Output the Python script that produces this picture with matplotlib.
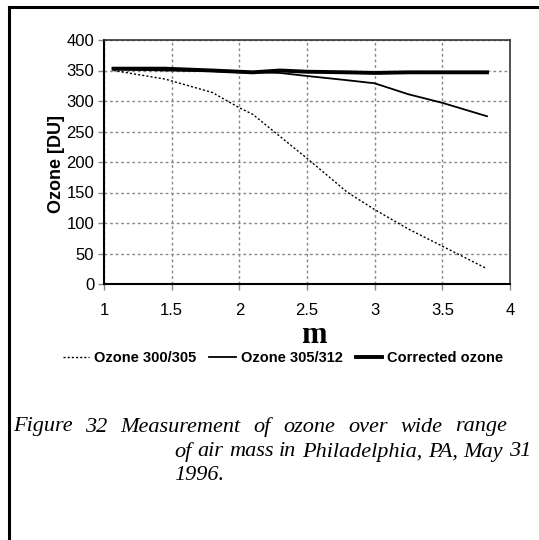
import matplotlib
matplotlib.use("Agg")
import matplotlib.pyplot as plt
from matplotlib.lines import Line2D

airmass = [1.07, 1.45, 1.8, 2.0, 2.1, 2.3, 2.5, 2.8, 3.0, 3.25, 3.5, 3.83]
ozone_300_305 = [350, 336, 314, 289, 278, 242, 206, 150, 122, 90, 62, 25]
ozone_305_312 = [352, 350, 349, 347, 347, 346, 341, 334, 329, 311, 297, 275]
corrected_ozone = [353, 353, 350, 348, 347, 350, 348, 347, 346, 347, 347, 347]

xticks = [1, 1.5, 2, 2.5, 3, 3.5, 4]
yticks = [0, 50, 100, 150, 200, 250, 300, 350, 400]
series_labels = ["Ozone 300/305", "Ozone 305/312", "Corrected ozone"]
caption_lines = ["Figure 32 Measurement of ozone over wide range",
                 "of air mass in Philadelphia, PA, May 31",
                 "1996."]

W, H = 539, 540
fig = plt.figure(figsize=(W / 100, H / 100), dpi=100)
ax = fig.add_axes([104 / W, 1 - 284 / H, (510 - 104) / W, (284 - 40) / H])

dot = (0, (1.5, 1.5))
ax.plot(airmass, ozone_300_305, color="black", lw=1.0, ls=dot)
ax.plot(airmass, ozone_305_312, color="black", lw=1.3)
ax.plot(airmass, corrected_ozone, color="black", lw=2.8)

ax.set_xlim(1, 4)
ax.set_ylim(0, 400)
ax.set_xticks(xticks)
ax.set_xticklabels([f"{t:g}" for t in xticks])
ax.set_yticks(yticks)
ax.grid(True, color="#888888", ls=(0, (2, 2)), lw=1.0)
ax.tick_params(axis="both", length=4, width=1, color="#888888", labelsize=12, pad=3)
for lbl in ax.get_xticklabels() + ax.get_yticklabels():
    lbl.set_fontfamily("Liberation Sans")
ax.tick_params(axis="x", pad=10)

for s in ["left", "bottom"]:
    ax.spines[s].set_color("black")
    ax.spines[s].set_linewidth(1.5)
for s in ["top", "right"]:
    ax.spines[s].set_color("#333333")
    ax.spines[s].set_linewidth(1.2)

ax.set_ylabel("Ozone [DU]", fontfamily="Liberation Sans", fontweight="bold", fontsize=13)
ax.yaxis.set_label_coords(-0.096, 0.49)
ax.set_xlabel("m", fontfamily="Liberation Serif", fontweight="bold", fontsize=22)
ax.xaxis.set_label_coords(0.517, -0.15)

handles = [Line2D([], [], color="black", lw=1.0, ls=dot),
           Line2D([], [], color="black", lw=1.3),
           Line2D([], [], color="black", lw=2.8)]
fig.legend(handles, series_labels,
           loc="center", bbox_to_anchor=(283 / W, 1 - 358 / H), ncol=3, frameon=False,
           prop={"family": "Liberation Sans", "weight": "bold", "size": 10.5},
           handlelength=1.8, handletextpad=0.35, columnspacing=0.9)

# caption
cap = dict(fontfamily="Liberation Serif", fontstyle="italic", fontsize=16, va="center", ha="left")
fig.canvas.draw()
renderer = fig.canvas.get_renderer()


def word_artists(text):
    words = text.split(" ")
    arts = [fig.text(0, 0, w, transform=None, **cap) for w in words]
    widths = [a.get_window_extent(renderer).width for a in arts]
    return arts, widths


def place(arts, widths, x0, y, gap):
    x = x0
    for a, w in zip(arts, widths):
        a.set_position((x, H - y))
        x += w + gap


a1, w1 = word_artists(caption_lines[0])
place(a1, w1, 13, 427, (507 - 13 - sum(w1)) / (len(w1) - 1))

space = fig.text(0, 0, "a a", transform=None, **cap)
aa = fig.text(0, 0, "aa", transform=None, **cap)
gap = space.get_window_extent(renderer).width - aa.get_window_extent(renderer).width
space.remove()
aa.remove()
a2, w2 = word_artists(caption_lines[1])
width2 = sum(w2) + gap * (len(w2) - 1)
indent = 531 - width2
place(a2, w2, indent, 452, gap)
a3, w3 = word_artists(caption_lines[2])
place(a3, w3, indent, 476, gap)

fig.add_artist(Line2D([8.5 / W, 8.5 / W], [0, 1 - 6.5 / H], color="black", lw=2.2, transform=fig.transFigure))
fig.add_artist(Line2D([8.5 / W, 1], [1 - 6.5 / H, 1 - 6.5 / H], color="black", lw=2.2, transform=fig.transFigure))

fig.savefig("out.png", dpi=100)
